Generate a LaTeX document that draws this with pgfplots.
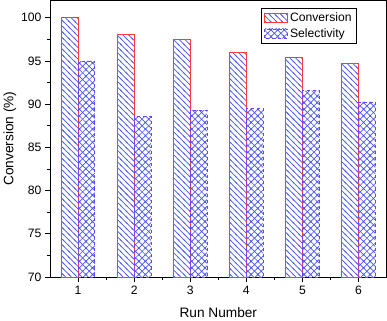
\documentclass[border=0pt]{standalone}
\usepackage{pgfplots}
\pgfplotsset{compat=1.18}
\usepackage{fontspec}
\setmainfont{Liberation Sans}
\usetikzlibrary{patterns.meta}

\definecolor{convred}{HTML}{FF3B3B}
\definecolor{hatchblue}{HTML}{4A58FF}
\definecolor{selpurple}{HTML}{7040FF}

% diagonal lines, top-left to bottom-right, 4bp apart
\tikzdeclarepattern{
  name=convlines,
  type=uncolored,
  bounding box={(-1bp,-1bp) and (6.66bp,6.66bp)},
  tile size={(5.66bp,5.66bp)},
  code={\draw[solid, line width=0.7bp] (-1bp,6.66bp) -- (6.66bp,-1bp);}
}
% diagonal cross hatch
\tikzdeclarepattern{
  name=selhatch,
  type=uncolored,
  bounding box={(-1bp,-1bp) and (7.5bp,7.5bp)},
  tile size={(6.5bp,6.5bp)},
  code={\draw[solid, line width=0.65bp] (-1bp,-1bp) -- (7.5bp,7.5bp) (-1bp,7.5bp) -- (7.5bp,-1bp);}
}

\tikzset{
  convpat/.style={pattern=convlines, pattern color=hatchblue},
  selpat/.style={pattern=selhatch, pattern color=hatchblue},
}

\begin{document}
\begin{tikzpicture}[x=1bp,y=1bp]
\begin{axis}[
  scale only axis,
  width=331bp, height=272bp,
  xmin=0.5, xmax=6.5,
  ymin=70, ymax=102,
  xtick={1,2,3,4,5,6},
  ytick={70,75,80,85,90,95,100},
  minor x tick num=1,
  minor y tick num=1,
  tick align=outside,
  xtick pos=bottom, ytick pos=left,
  major tick length=5bp, minor tick length=3bp,
  tick style={black, line width=0.6bp},
  axis line style={line width=0.8bp},
  ticklabel style={font=\fontsize{12}{14}\selectfont},
  /pgf/number format/assume math mode=true,
  xlabel={Run Number},
  ylabel={Conversion (\%)},
  label style={font=\fontsize{13.5}{16}\selectfont},
  xlabel style={yshift=-6bp},
  ylabel style={yshift=-2bp},
  legend style={at={(0.912,0.974)}, anchor=north east, draw=black, line width=0.6bp,
    font=\fontsize{12}{13}\selectfont, row sep=1.5bp, inner xsep=3bp, inner ysep=2.5bp,
    cells={anchor=west}},
]
\addplot[ybar, bar width=0.3, bar shift=-0.15, draw=convred, line width=0.8bp, convpat,
  legend image code/.code={\draw[convpat, draw=convred, line width=0.8bp] (0bp,-4.5bp) rectangle (23bp,4.5bp);}]
  coordinates {(1,100) (2,98.05) (3,97.5) (4,96.0) (5,95.45) (6,94.75)};
\addplot[ybar, bar width=0.3, bar shift=0.15, draw=selpurple, dashed, line width=0.8bp, selpat,
  legend image code/.code={\draw[selpat, draw=selpurple, dashed, line width=0.8bp] (0bp,-4.5bp) rectangle (23bp,4.5bp);}]
  coordinates {(1,95.0) (2,88.6) (3,89.3) (4,89.45) (5,91.55) (6,90.25)};
\legend{Conversion, Selectivity}
\end{axis}
\end{tikzpicture}
\end{document}
